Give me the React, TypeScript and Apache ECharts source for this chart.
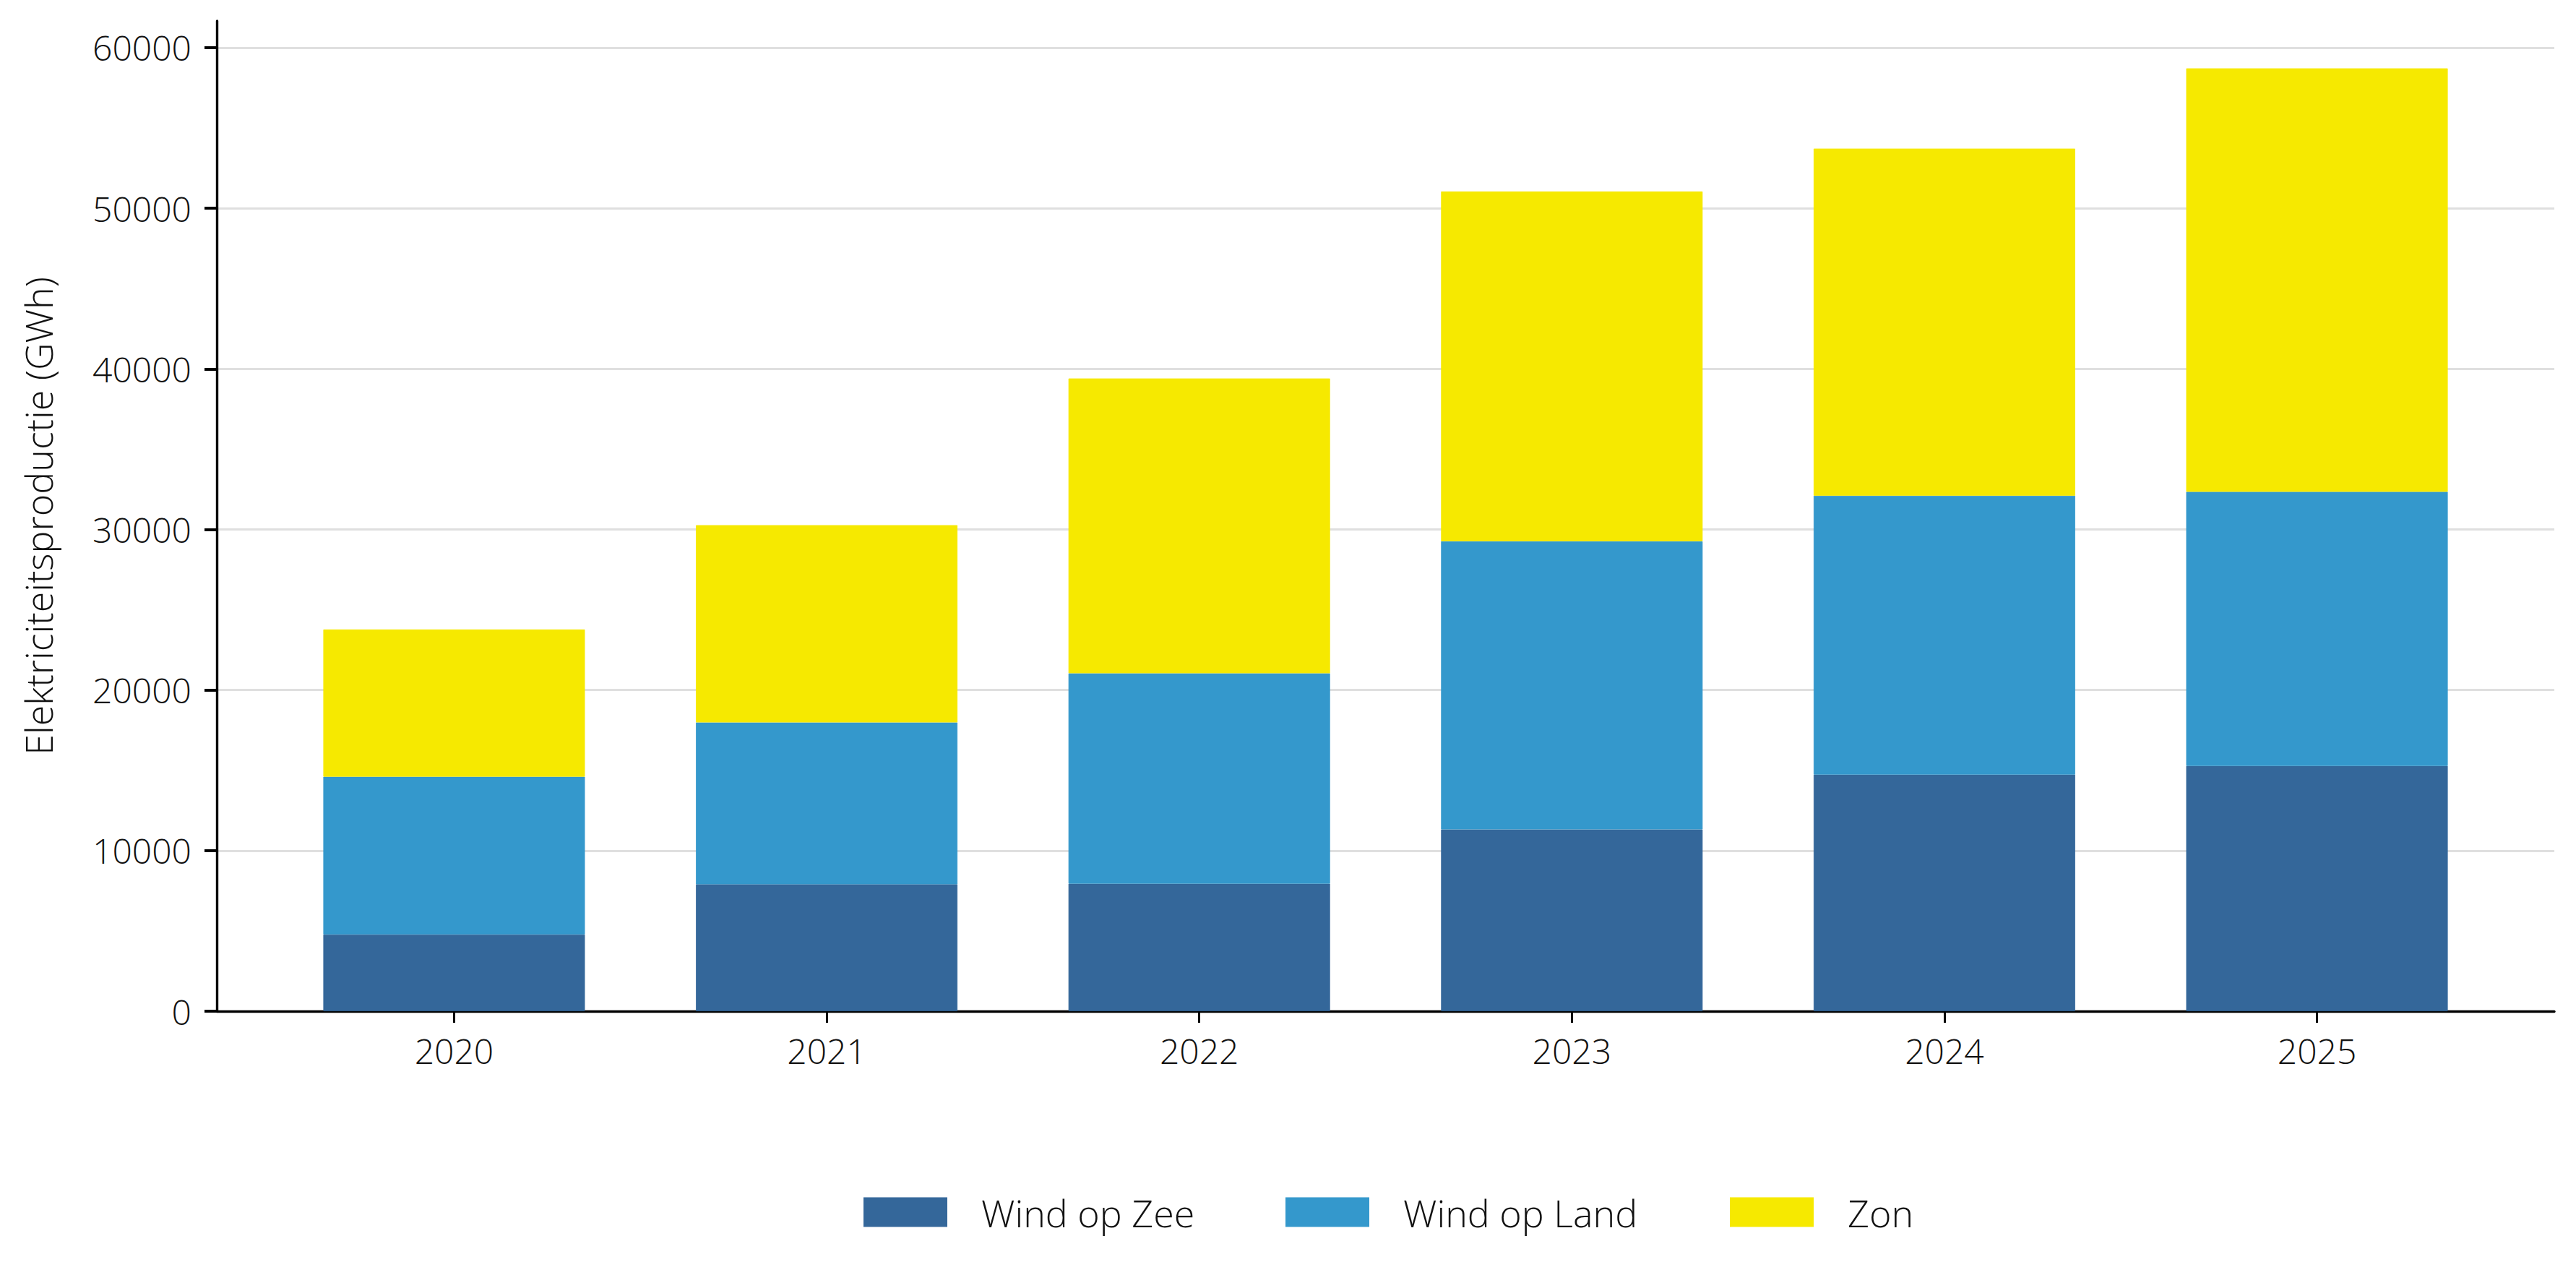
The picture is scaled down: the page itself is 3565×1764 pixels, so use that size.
import React, { useEffect, useRef } from "react";
import * as echarts from "echarts";

const years = ["2020", "2021", "2022", "2023", "2024", "2025"];
const windOpZee = [4780, 7900, 7940, 11320, 14730, 15270];
const windOpLand = [9820, 10080, 13100, 17940, 17370, 17070];
const zon = [9170, 12285, 18360, 21785, 21613, 26369];
const yTicks = [0, 10000, 20000, 30000, 40000, 50000, 60000];
const seriesNames = ["Wind op Zee", "Wind op Land", "Zon"];
const seriesColors = ["#34679a", "#3498cc", "#f6e900"];

const FONT = "'Open Sans', 'Noto Sans', sans-serif";

export default function App() {
  const ref = useRef<HTMLDivElement>(null);

  useEffect(() => {
    if (!ref.current) return;
    const chart = echarts.init(ref.current, undefined, { renderer: "svg" });
    const xIdx = years.map((_, i) => i);
    // value first so that ECharts stacks on the y dimension
    const toData = (arr: number[]) => arr.map((v, i) => [v, xIdx[i]]);
    const allData = [windOpZee, windOpLand, zon];

    const legendLefts = [1190, 1774, 2389];

    chart.setOption({
      animation: false,
      backgroundColor: "#ffffff",
      textStyle: { fontFamily: FONT },
      grid: { left: 300, right: 30, top: 29, bottom: 365, containLabel: false, outerBoundsMode: "none" },
      legend: seriesNames.map((name, k) => ({
        data: [name],
        left: legendLefts[k],
        top: 1646,
        itemWidth: 116,
        itemHeight: 41,
        icon: "rect",
        selectedMode: false,
        itemStyle: { borderWidth: 0 },
        textStyle: {
          fontFamily: FONT,
          fontWeight: 300,
          fontSize: 52,
          color: "#111",
          padding: [0, 0, 0, 42],
        },
      })),
      xAxis: {
        type: "value",
        min: -0.637,
        max: 5.637,
        splitLine: { show: false },
        axisLine: { show: true, onZero: false, lineStyle: { color: "#000", width: 3.4 } },
        axisTick: {
          show: true,
          customValues: xIdx,
          length: 16,
          lineStyle: { color: "#000", width: 3 },
        },
        axisLabel: {
          customValues: xIdx,
          formatter: (v: number) => years[Math.round(v)] ?? "",
          fontFamily: FONT,
          fontWeight: 300,
          fontSize: 48,
          color: "#111",
          margin: 30,
        },
      },
      yAxis: {
        type: "value",
        min: 0,
        max: 61660,
        name: "Elektriciteitsproductie (GWh)",
        nameLocation: "middle",
        nameGap: 222,
        nameTextStyle: { fontFamily: FONT, fontWeight: 300, fontSize: 52, color: "#111" },
        axisLine: { show: true, onZero: false, lineStyle: { color: "#000", width: 3.4 } },
        axisTick: {
          show: true,
          customValues: yTicks,
          length: 17,
          lineStyle: { color: "#000", width: 4 },
        },
        axisLabel: {
          customValues: yTicks,
          formatter: (v: number) => String(v),
          fontFamily: FONT,
          fontWeight: 300,
          fontSize: 48,
          color: "#111",
          margin: 35,
        },
        splitLine: { show: true, lineStyle: { color: "#dfdfdf", width: 3 } },
      },
      series: seriesNames.map((name, k) => ({
        name,
        type: "bar",
        stack: "total",
        barWidth: 362,
        encode: { x: 1, y: 0 },
        itemStyle: { color: seriesColors[k], borderColor: seriesColors[k], borderWidth: 0.8 },
        data: toData(allData[k]),
      })),
    });

    return () => chart.dispose();
  }, []);

  return (
    <div
      ref={ref}
      style={{ position: "absolute", left: 0, top: 0, width: 3565, height: 1764, background: "#fff" }}
    />
  );
}
